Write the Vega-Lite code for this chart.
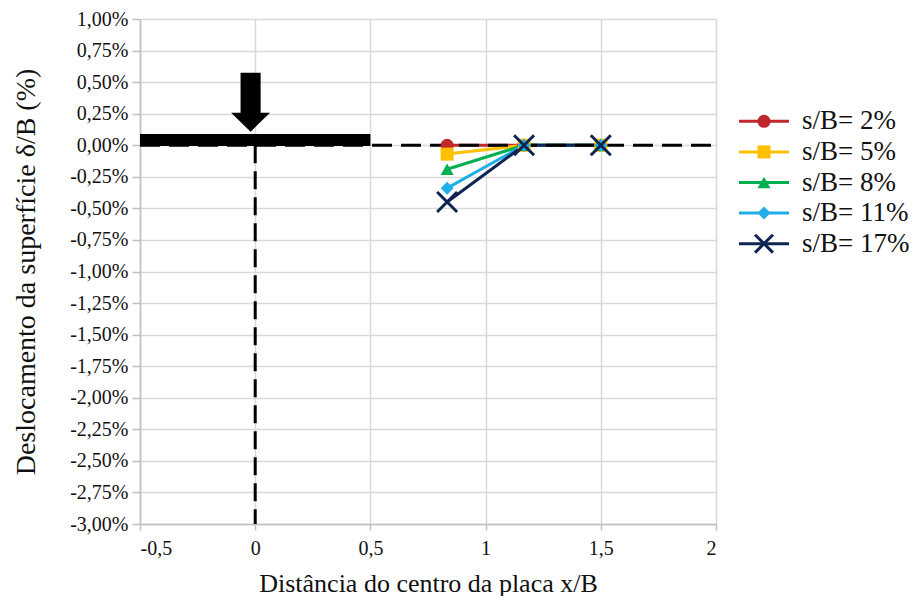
{
  "$schema": "https://vega.github.io/schema/vega-lite/v6.json",
  "background": "white",
  "padding": {"left": 12, "top": 9, "right": 0, "bottom": 0},
  "spacing": 0,
  "bounds": "flush",
  "config": {
    "locale": {"number": {"decimal": ",", "thousands": ".", "grouping": [3], "currency": ["", " €"], "minus": "-"}},
    "view": {"stroke": null},
    "font": "Liberation Serif",
    "axis": {
      "labelFont": "Liberation Serif",
      "titleFont": "Liberation Serif",
      "labelColor": "#111111",
      "titleColor": "#111111",
      "titleFontWeight": "normal",
      "gridColor": "#D9D9D9",
      "gridWidth": 1.5,
      "domainColor": "#BFBFBF",
      "domainWidth": 1.5,
      "tickColor": "#BFBFBF",
      "tickWidth": 1.5,
      "labelOverlap": false
    }
  },
  "datasets": {
    "pts": [
      {"series": "s/B= 2%", "x": 0.833, "y": 0},
      {"series": "s/B= 2%", "x": 1.167, "y": 0},
      {"series": "s/B= 2%", "x": 1.5, "y": 0},
      {"series": "s/B= 5%", "x": 0.833, "y": -0.0007},
      {"series": "s/B= 5%", "x": 1.167, "y": 0},
      {"series": "s/B= 5%", "x": 1.5, "y": 0},
      {"series": "s/B= 8%", "x": 0.833, "y": -0.0019},
      {"series": "s/B= 8%", "x": 1.167, "y": 0},
      {"series": "s/B= 8%", "x": 1.5, "y": 0},
      {"series": "s/B= 11%", "x": 0.833, "y": -0.0034},
      {"series": "s/B= 11%", "x": 1.167, "y": 0},
      {"series": "s/B= 11%", "x": 1.5, "y": 0},
      {"series": "s/B= 17%", "x": 0.833, "y": -0.0045},
      {"series": "s/B= 17%", "x": 1.167, "y": 0},
      {"series": "s/B= 17%", "x": 1.5, "y": 0}
    ],
    "legend": [
      {"series": "s/B= 2%"},
      {"series": "s/B= 5%"},
      {"series": "s/B= 8%"},
      {"series": "s/B= 11%"},
      {"series": "s/B= 17%"}
    ]
  },
  "hconcat": [
    {
      "width": 576,
      "height": 505,
      "layer": [
        {
          "data": {"name": "pts"},
          "mark": {"type": "line", "strokeWidth": 3},
          "encoding": {
            "x": {
              "field": "x", "type": "quantitative",
              "scale": {"domain": [-0.5, 2], "nice": false, "zero": false},
              "axis": {
                "values": [-0.5, 0, 0.5, 1, 1.5, 2], "format": "~g", "tickCount": 20,
                "title": "Distância do centro da placa x/B",
                "labelFont": "Liberation Serif", "titleFont": "Liberation Serif",
                "labelFontSize": 20, "titleFontSize": 26, "tickSize": 6,
                "labelPadding": 8, "titlePadding": 12, "labelOverlap": false
              }
            },
            "y": {
              "field": "y", "type": "quantitative",
              "scale": {"domain": [-0.03, 0.01], "nice": false, "zero": false},
              "axis": {
                "values": [-0.03, -0.0275, -0.025, -0.0225, -0.02, -0.0175, -0.015, -0.0125, -0.01, -0.0075, -0.005, -0.0025, 0, 0.0025, 0.005, 0.0075, 0.01],
                "tickCount": 40,
                "format": ".2%",
                "title": "Deslocamento da superfície δ/B (%)",
                "labelFont": "Liberation Serif", "titleFont": "Liberation Serif",
                "labelFontSize": 20, "titleFontSize": 28, "tickSize": 8,
                "labelPadding": 4, "titlePadding": 29, "labelOverlap": false
              }
            },
            "color": {
              "field": "series", "type": "nominal", "legend": null,
              "scale": {
                "domain": ["s/B= 2%", "s/B= 5%", "s/B= 8%", "s/B= 11%", "s/B= 17%"],
                "range": ["#C0282D", "#FFC000", "#00B050", "#1FAEE8", "#0E2452"]
              }
            }
          }
        },
        {
          "data": {"values": [{}]},
          "mark": {"type": "rule", "strokeWidth": 12, "color": "black", "strokeCap": "butt"},
          "encoding": {
            "x": {"datum": -0.5, "type": "quantitative"},
            "x2": {"datum": 0.5},
            "y": {"datum": 0.00042, "type": "quantitative"}
          }
        },
        {
          "data": {"values": [{}]},
          "mark": {"type": "rule", "strokeWidth": 3, "color": "black", "strokeDash": [20, 9], "strokeCap": "butt"},
          "encoding": {
            "x": {"datum": -0.5, "type": "quantitative"},
            "x2": {"datum": 2},
            "y": {"datum": 0, "type": "quantitative"}
          }
        },
        {
          "data": {"values": [{}]},
          "mark": {"type": "rule", "strokeWidth": 3, "color": "black", "strokeDash": [18, 8], "strokeCap": "butt"},
          "encoding": {
            "x": {"datum": 0, "type": "quantitative"},
            "y": {"datum": 0, "type": "quantitative"},
            "y2": {"datum": -0.03}
          }
        },
        {
          "data": {"values": [{}]},
          "mark": {
            "type": "point", "filled": true, "color": "black", "opacity": 1, "size": 3481,
            "shape": "M -0.34 -1 L 0.34 -1 L 0.34 0.356 L 0.66 0.356 L 0 1 L -0.66 0.356 L -0.34 0.356 Z"
          },
          "encoding": {
            "x": {"datum": -0.02, "type": "quantitative"},
            "y": {"datum": 0.00341, "type": "quantitative"}
          }
        },
        {
          "data": {"name": "pts"},
          "transform": [{"filter": "datum.series !== 's/B= 17%'"}],
          "mark": {"type": "point", "filled": true, "opacity": 1, "size": 170},
          "encoding": {
            "x": {"field": "x", "type": "quantitative"},
            "y": {"field": "y", "type": "quantitative"},
            "color": {"field": "series", "type": "nominal", "legend": null},
            "shape": {
              "field": "series", "type": "nominal", "legend": null,
              "scale": {
                "domain": ["s/B= 2%", "s/B= 5%", "s/B= 8%", "s/B= 11%", "s/B= 17%"],
                "range": ["circle", "square", "triangle-up", "diamond", "M -1 -1 L 1 1 M -1 1 L 1 -1"]
              }
            }
          }
        },
        {
          "data": {"name": "pts"},
          "transform": [{"filter": "datum.series === 's/B= 17%'"}],
          "mark": {"type": "point", "filled": false, "opacity": 1, "size": 400, "strokeWidth": 3, "shape": "M -1 -1 L 1 1 M -1 1 L 1 -1"},
          "encoding": {
            "x": {"field": "x", "type": "quantitative"},
            "y": {"field": "y", "type": "quantitative"},
            "color": {"field": "series", "type": "nominal", "legend": null}
          }
        }
      ]
    },
    {
      "width": 200,
      "height": 505,
      "data": {"name": "legend"},
      "encoding": {
        "y": {
          "field": "series", "type": "nominal", "axis": null,
          "scale": {"type": "point", "domain": ["s/B= 2%", "s/B= 5%", "s/B= 8%", "s/B= 11%", "s/B= 17%"], "range": [87, 240]}
        }
      },
      "layer": [
        {
          "mark": {"type": "rule", "strokeWidth": 3},
          "encoding": {
            "x": {"datum": 0.115, "type": "quantitative", "scale": {"domain": [0, 1], "nice": false, "zero": false}, "axis": null},
            "x2": {"datum": 0.365},
            "color": {"field": "series", "type": "nominal", "legend": null}
          }
        },
        {
          "transform": [{"filter": "datum.series !== 's/B= 17%'"}],
          "mark": {"type": "point", "filled": true, "opacity": 1, "size": 170},
          "encoding": {
            "x": {"datum": 0.24, "type": "quantitative"},
            "color": {"field": "series", "type": "nominal", "legend": null},
            "shape": {"field": "series", "type": "nominal", "legend": null}
          }
        },
        {
          "transform": [{"filter": "datum.series === 's/B= 17%'"}],
          "mark": {"type": "point", "filled": false, "opacity": 1, "size": 320, "strokeWidth": 3, "shape": "M -1 -1 L 1 1 M -1 1 L 1 -1"},
          "encoding": {
            "x": {"datum": 0.24, "type": "quantitative"},
            "color": {"field": "series", "type": "nominal", "legend": null}
          }
        },
        {
          "mark": {"type": "text", "align": "left", "baseline": "middle", "fontSize": 27, "font": "Liberation Serif", "color": "#111111"},
          "encoding": {
            "x": {"datum": 0.43, "type": "quantitative"},
            "text": {"field": "series", "type": "nominal"}
          }
        }
      ]
    }
  ]
}
